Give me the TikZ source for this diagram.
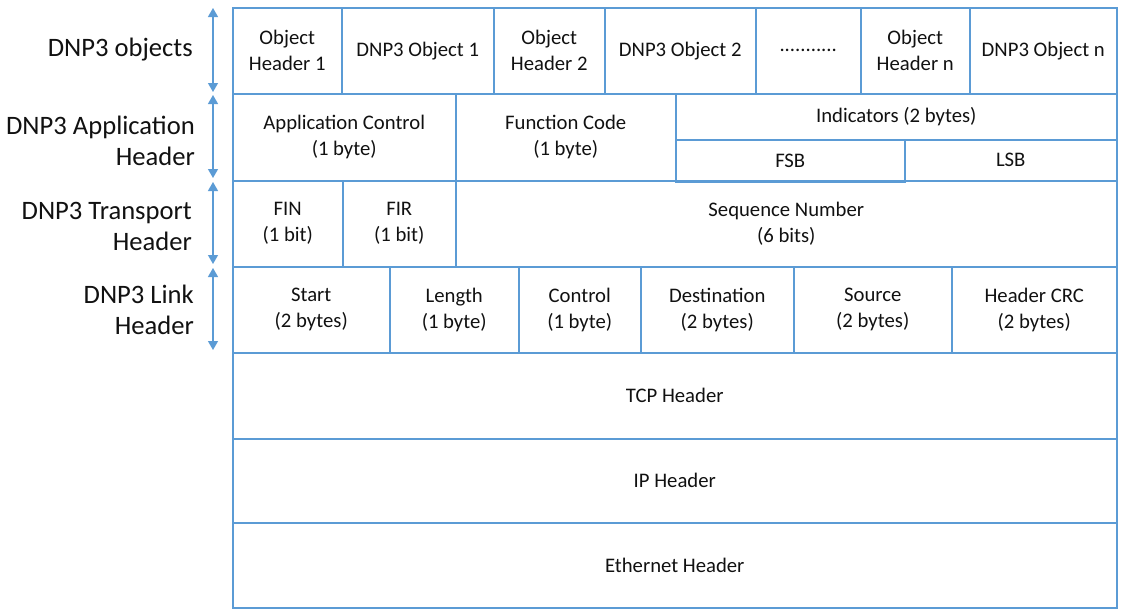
\documentclass[tikz,border=0pt]{standalone}
\usepackage{fontspec}
\setmainfont{Carlito}
\usetikzlibrary{arrows.meta}
\definecolor{lineblue}{HTML}{5B9BD5}
\definecolor{txt}{HTML}{111111}
\tikzset{
  cellbox/.style={draw=lineblue, line width=1.5pt, inner sep=0pt, align=center,
    text=txt, font=\fontsize{20.7}{26}\selectfont, anchor=north west},
  lbl/.style={anchor=east, align=right, text=txt, inner sep=0pt,
    font=\fontsize{26.6}{31}\selectfont},
  span/.style={draw=lineblue, line width=1.3pt, {Triangle[width=10pt,length=9pt]}-{Triangle[width=10pt,length=9pt]}}
}
\newcommand\cell[6]{\node[cellbox, minimum width={(#4-#2)*1pt}, minimum height={(#5-#3)*1pt}] (#1) at (#2,#3) {#6};}
\begin{document}
\begin{tikzpicture}[x=1pt,y=-1pt]
\useasboundingbox (0,0) rectangle (1122,614);
% row 1
\cell{oh1}{232}{7}{341}{93}{Object\\Header 1}
\cell{o1}{341}{7}{493}{93}{DNP3 Object 1}
\cell{oh2}{493}{7}{604}{93}{Object\\Header 2}
\cell{o2}{604}{7}{755}{93}{DNP3 Object 2}
\cell{dots}{755}{7}{860}{93}{...........}
\cell{ohn}{860}{7}{969}{93}{Object\\Header n}
\cell{on}{969}{7}{1116}{93}{DNP3 Object n}
% row 2
\cell{ac}{232}{93}{455}{180}{Application Control\\(1 byte)}
\cell{fc}{455}{93}{675}{180}{Function Code\\(1 byte)}
\cell{ind}{675}{93}{1116}{139}{Indicators (2 bytes)}
\cell{fsb}{675}{139}{904}{181}{FSB}
\cell{lsb}{904}{139}{1116}{180}{LSB}
% row 3
\cell{fin}{232}{180}{342}{266}{FIN\\(1 bit)}
\cell{fir}{342}{180}{455}{266}{FIR\\(1 bit)}
\cell{seq}{455}{180}{1116}{266}{Sequence Number\\(6 bits)}
% row 4
\cell{start}{232}{266}{389}{352}{Start\\(2 bytes)}
\cell{len}{389}{266}{518}{352}{Length\\(1 byte)}
\cell{ctl}{518}{266}{640}{352}{Control\\(1 byte)}
\cell{dst}{640}{266}{793}{352}{Destination\\(2 bytes)}
\cell{src}{793}{266}{951}{352}{Source\\(2 bytes)}
\cell{crc}{951}{266}{1116}{352}{Header CRC\\(2 bytes)}
% lower rows
\cell{tcp}{232}{352}{1116}{438}{TCP Header}
\cell{ip}{232}{438}{1116}{522}{IP Header}
\cell{eth}{232}{522}{1116}{607}{Ethernet Header}
% labels
\node[lbl] (l1) at (193,50) {DNP3 objects};
\node[lbl] (l2) at (195,141) {DNP3 Application\\Header};
\node[lbl] (l3) at (192,226) {DNP3 Transport\\Header};
\node[lbl] (l4) at (194,310) {DNP3 Link\\Header};
% span arrows
\coordinate (a1t) at (213,8);   \coordinate (a1b) at (213,92);
\coordinate (a2t) at (213,95);  \coordinate (a2b) at (213,178);
\coordinate (a3t) at (213,182); \coordinate (a3b) at (213,264);
\coordinate (a4t) at (213,268); \coordinate (a4b) at (213,350);
\draw[span] (a1t) -- (a1b);
\draw[span] (a2t) -- (a2b);
\draw[span] (a3t) -- (a3b);
\draw[span] (a4t) -- (a4b);
\end{tikzpicture}
\end{document}
